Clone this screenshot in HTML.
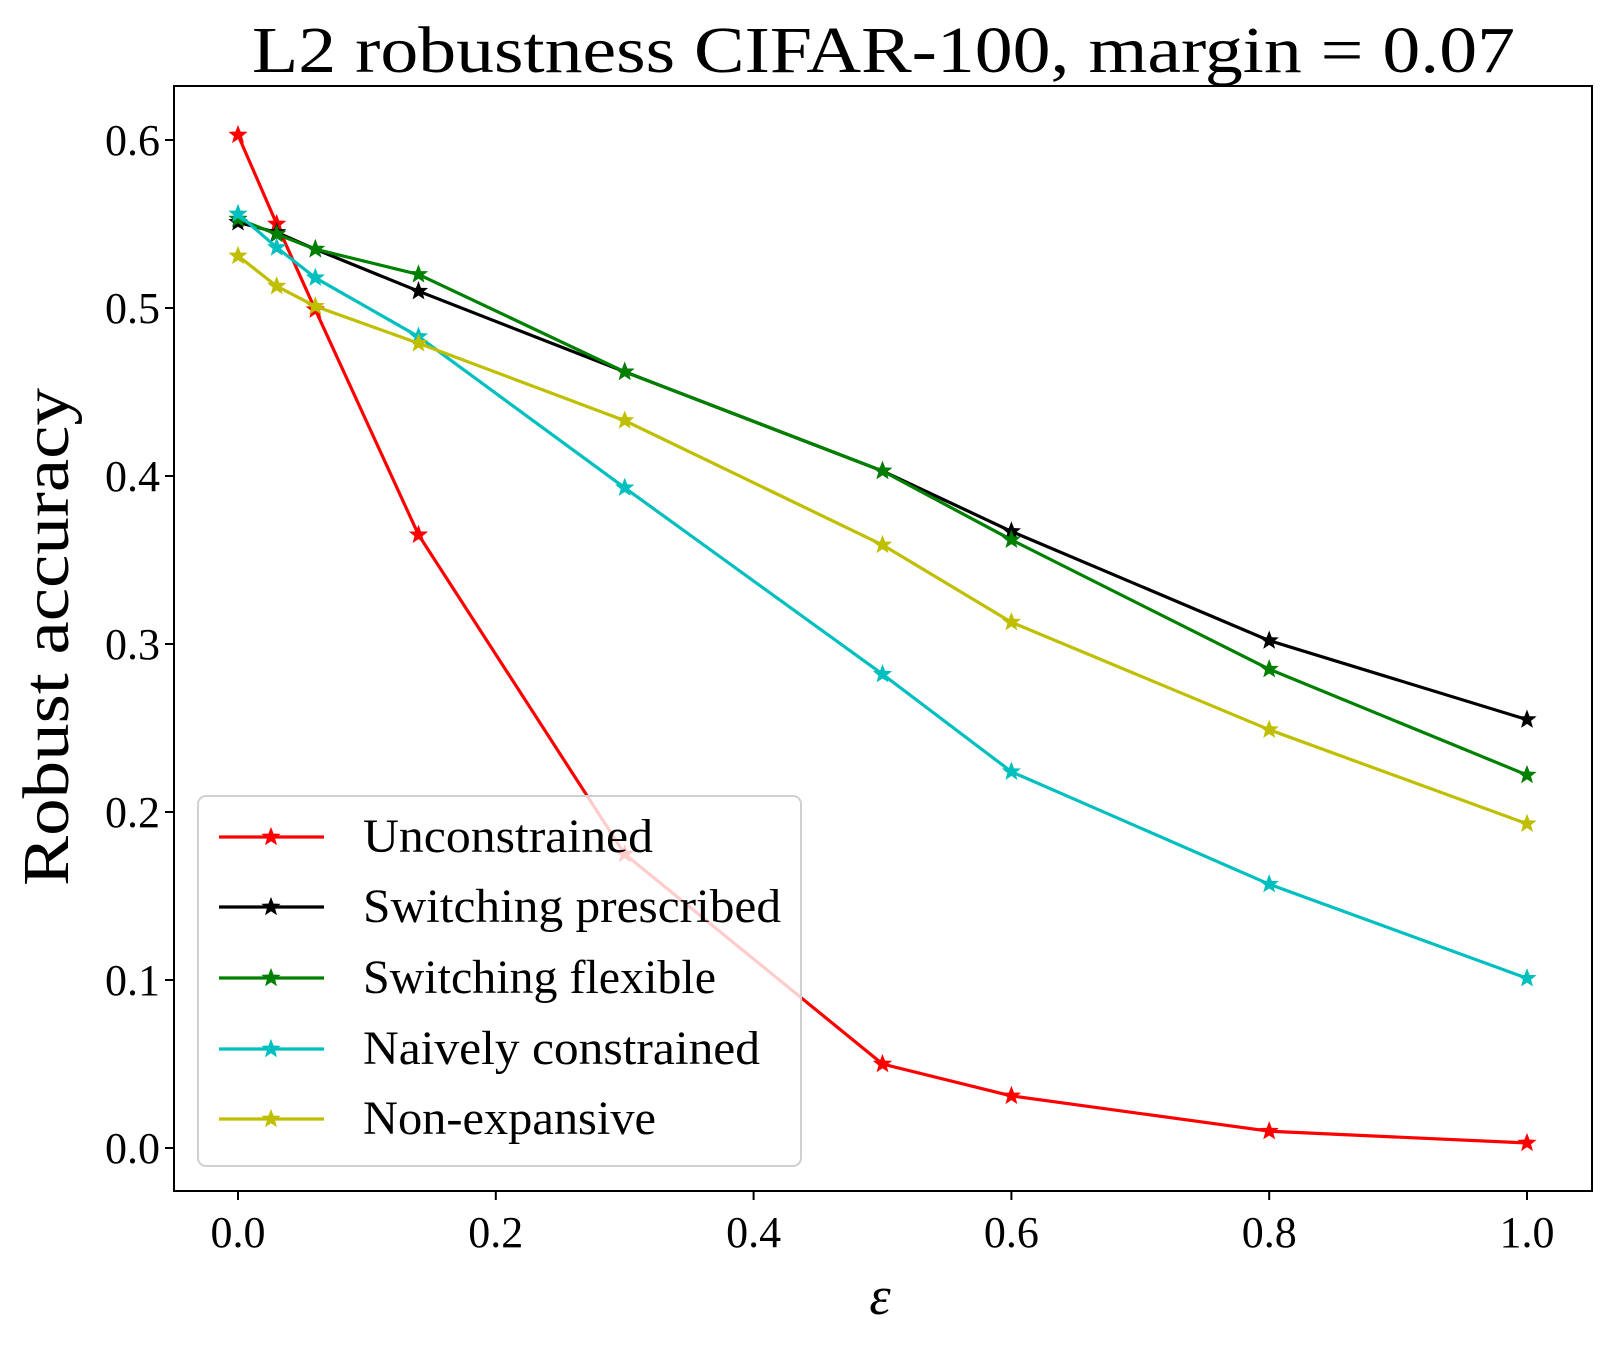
<!DOCTYPE html>
<html><head><meta charset="utf-8"><style>
html,body{margin:0;padding:0;background:#fff;}
svg text{font-family:"Liberation Serif",serif;fill:#000;}
</style></head><body>
<svg id="chart" width="1610" height="1350" viewBox="0 0 1610 1350" xmlns="http://www.w3.org/2000/svg">
<rect width="1610" height="1350" fill="#fff"/>
<text x="252" y="72" font-size="66" textLength="1263" lengthAdjust="spacingAndGlyphs">L2 robustness CIFAR-100, margin = 0.07</text>
<g id="grid"></g>
<g id="series"></g>
<rect x="174" y="86" width="1418" height="1105" fill="none" stroke="#000" stroke-width="2"/>
<g id="axes"></g>
<text transform="translate(68,637) rotate(-90)" font-size="66" text-anchor="middle" textLength="498" lengthAdjust="spacingAndGlyphs">Robust accuracy</text>
<text x="880" y="1314" font-size="54" font-style="italic" text-anchor="middle">ε</text>
<g id="legend"></g>
</svg>
<script>
const xValues = [0, 0.03, 0.06, 0.14, 0.3, 0.5, 0.6, 0.8, 1.0];
const unconstrained = [0.603, 0.550, 0.499, 0.365, 0.175, 0.050, 0.031, 0.010, 0.003];
const switchingPrescribed = [0.551, 0.545, 0.535, 0.510, 0.462, 0.403, 0.367, 0.302, 0.255];
const switchingFlexible = [0.553, 0.544, 0.535, 0.520, 0.462, 0.403, 0.362, 0.285, 0.222];
const naivelyConstrained = [0.556, 0.536, 0.518, 0.483, 0.393, 0.282, 0.224, 0.157, 0.101];
const nonExpansive = [0.531, 0.513, 0.501, 0.479, 0.433, 0.359, 0.313, 0.249, 0.193];
const seriesNames = ["Unconstrained","Switching prescribed","Switching flexible","Naively constrained","Non-expansive"];
const xTicks = [0.0, 0.2, 0.4, 0.6, 0.8, 1.0];
const xTickLabels = ["0.0","0.2","0.4","0.6","0.8","1.0"];
const yTicks = [0.0, 0.1, 0.2, 0.3, 0.4, 0.5, 0.6];
const yTickLabels = ["0.0","0.1","0.2","0.3","0.4","0.5","0.6"];

const NS="http://www.w3.org/2000/svg";
const X = v => 238 + v*1289;
const Y = v => 1148 - v*1680;
function mk(tag, attrs, parent){const e=document.createElementNS(NS,tag);for(const k in attrs)e.setAttribute(k,attrs[k]);parent.appendChild(e);return e;}
function star(cx,cy,r){let p=[];for(let i=0;i<10;i++){const a=-Math.PI/2+i*Math.PI/5;const rr=i%2?r*0.42:r;p.push((cx+rr*Math.cos(a)).toFixed(1)+","+(cy+rr*Math.sin(a)).toFixed(1));}return p.join(" ");}

const axes=document.getElementById('axes');
xTicks.forEach((t,i)=>{
  const l=mk('line',{x1:X(t),x2:X(t),y1:1191,y2:1200,stroke:'#000','stroke-width':2},axes);
  
  
  const tx=mk('text',{x:X(t),y:1247,'font-size':44,'text-anchor':'middle'},axes);
  tx.textContent=xTickLabels[i];
  
  
});
yTicks.forEach((t,i)=>{
  const l=mk('line',{x1:165,x2:174,y1:Y(t),y2:Y(t),stroke:'#000','stroke-width':2},axes);
  
  
  const tx=mk('text',{x:160,y:Y(t)+15,'font-size':44,'text-anchor':'end'},axes);
  tx.textContent=yTickLabels[i];
  
  
});

const allSeries=[unconstrained,switchingPrescribed,switchingFlexible,naivelyConstrained,nonExpansive];
const colors=["#ff0000","#000000","#008000","#00bfbf","#bfbf00"];
const sg=document.getElementById('series');
allSeries.forEach((vals,si)=>{
  const g=mk('g',{},sg);
  
  
  const pts=vals.map((v,i)=>X(xValues[i]).toFixed(1)+","+Y(v).toFixed(1)).join(" ");
  const pl=mk('polyline',{points:pts,fill:'none',stroke:colors[si],'stroke-width':3.2,'stroke-linejoin':'round'},g);
  
  
  vals.forEach((v,i)=>{
    const s=mk('polygon',{points:star(X(xValues[i]),Y(v),8),fill:colors[si],stroke:colors[si],'stroke-width':1.5},g);
    
    
  });
});

const lg=document.getElementById('legend');
const box=mk('rect',{x:198,y:796,width:603,height:370,rx:8,fill:'#fff','fill-opacity':0.8,stroke:'#d0d0d0','stroke-width':2},lg);


const rowY=[837,907,978,1049,1119];
const textW=[290,418,353,397,293];
seriesNames.forEach((n,i)=>{
  const g=mk('g',{},lg);
  
  
  mk('line',{x1:219,x2:324,y1:rowY[i],y2:rowY[i],stroke:colors[i],'stroke-width':3.2},g);
  mk('polygon',{points:star(271,rowY[i],8),fill:colors[i],stroke:colors[i],'stroke-width':1.5},g);
  const t=mk('text',{x:363,y:rowY[i]+15,'font-size':48,textLength:textW[i],lengthAdjust:'spacingAndGlyphs'},g);
  t.textContent=n;
});
</script>
</body></html>
